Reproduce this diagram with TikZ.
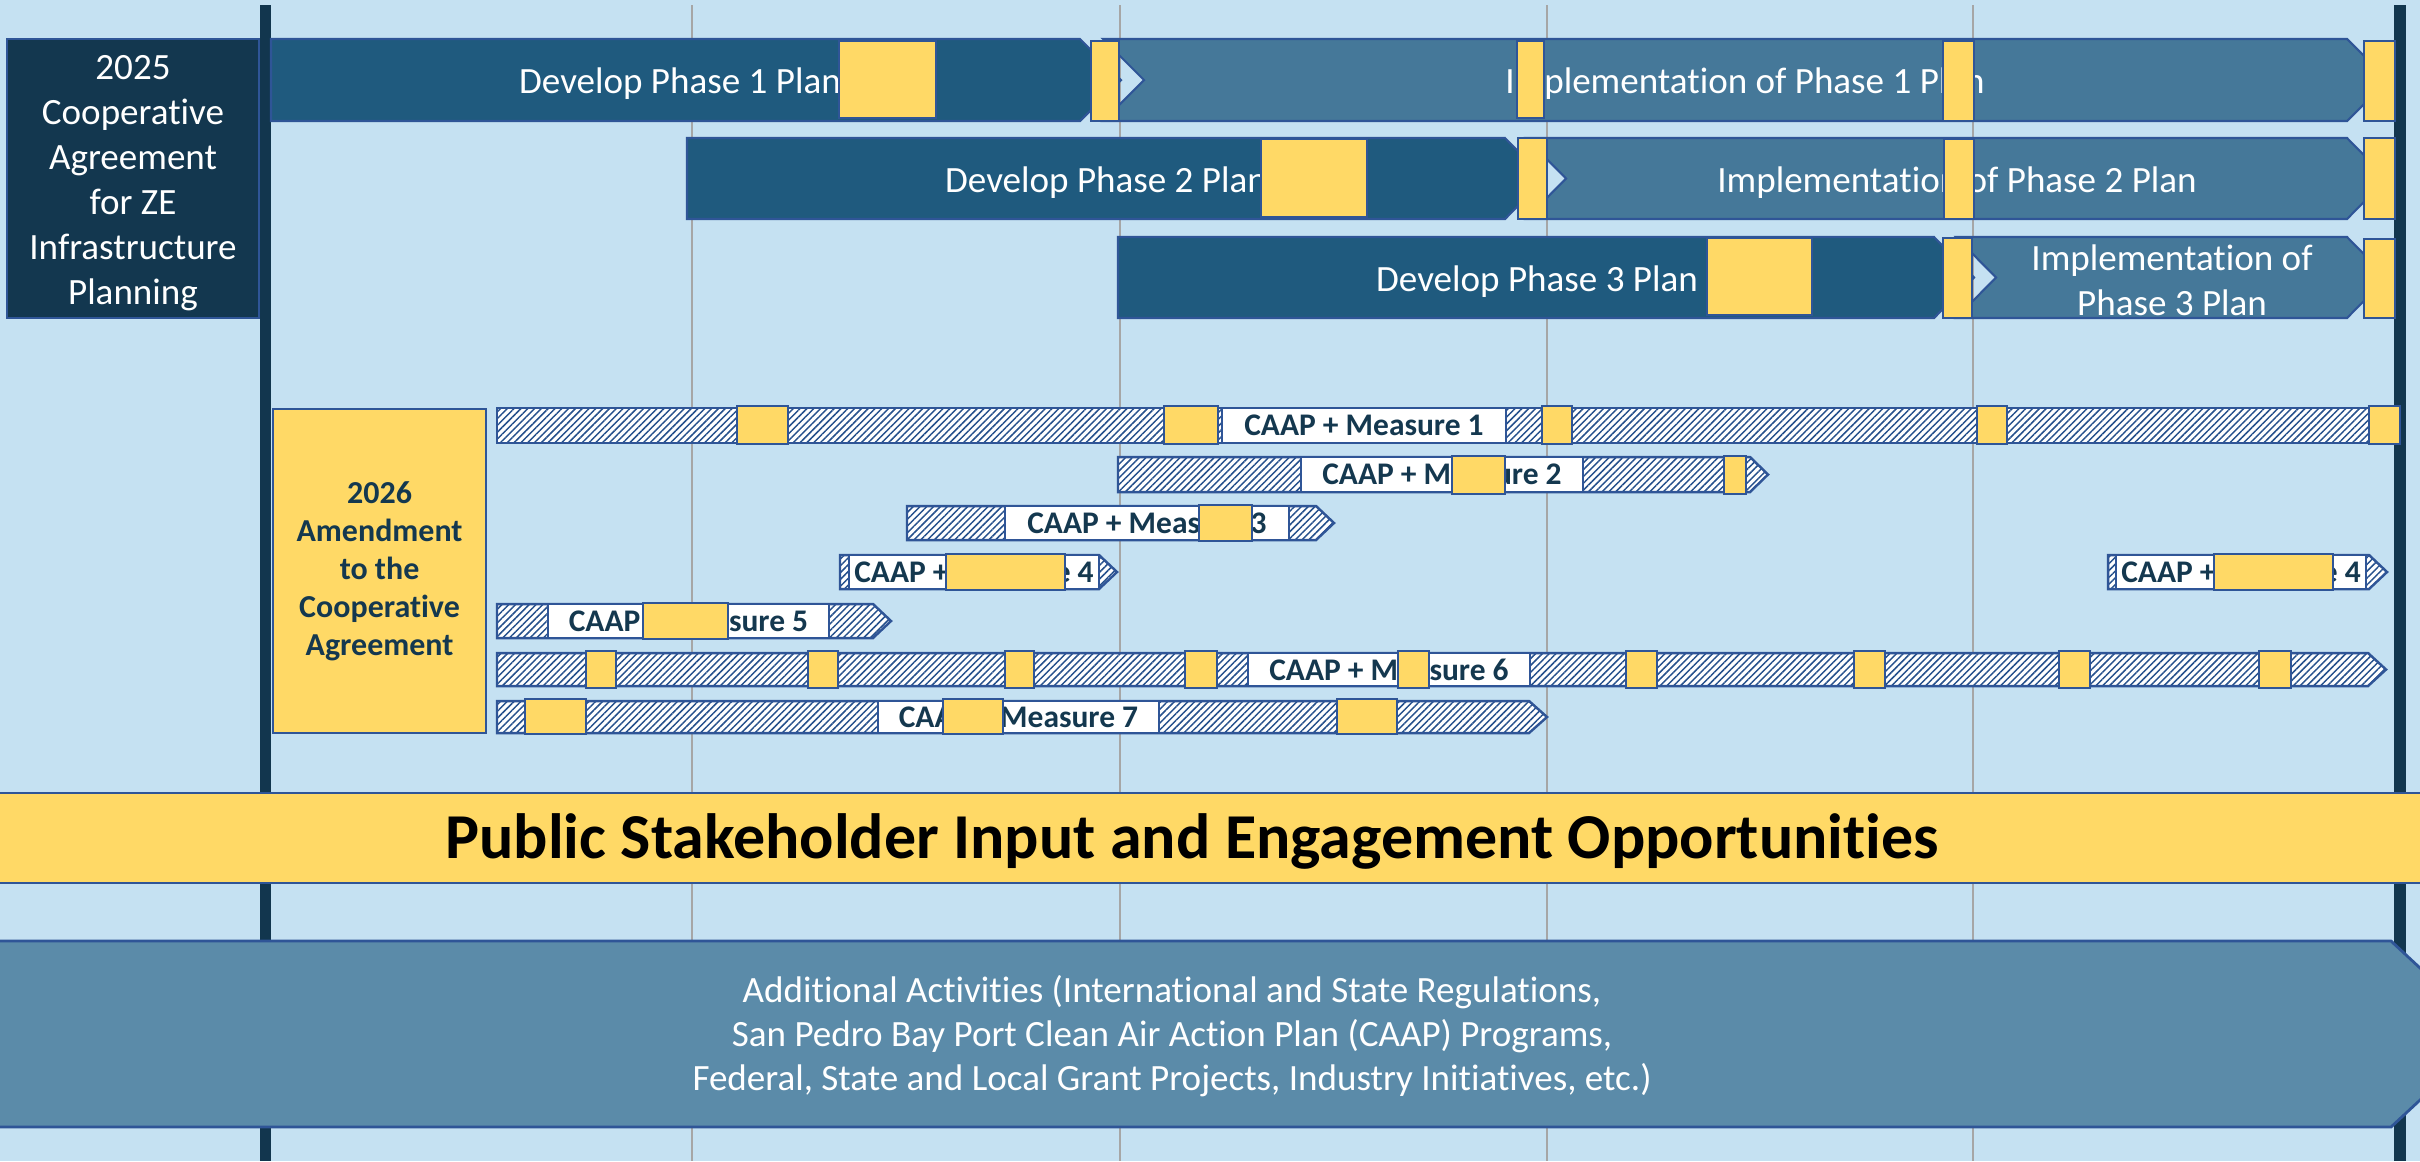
\documentclass[tikz,border=0pt]{standalone}
\usepackage{fontspec}
\setmainfont{Carlito}[Ligatures=NoCommon]
\usetikzlibrary{patterns.meta}
\definecolor{bgc}{HTML}{C5E1F2}
\definecolor{devblue}{HTML}{1F5A7E}
\definecolor{impblue}{HTML}{457899}
\definecolor{leftc}{HTML}{13374F}
\definecolor{vlinec}{HTML}{12364E}
\definecolor{ylw}{HTML}{FFD966}
\definecolor{edgeb}{HTML}{2F5597}
\definecolor{hatchc}{HTML}{25508C}
\definecolor{txtdark}{HTML}{14384F}
\definecolor{gridc}{HTML}{A6A6A6}
\definecolor{addc}{HTML}{5B8BA9}
\tikzset{
  devbar/.style={fill=devblue, draw=edgeb, line width=0.6pt},
  impbar/.style={fill=impblue, draw=edgeb, line width=0.6pt},
  yel/.style={fill=ylw, draw=edgeb, line width=0.7pt},
  hatchbar/.style={preaction={fill=white}, pattern={Lines[angle=45,distance=1.37pt,line width=0.42pt]}, pattern color=hatchc, draw=edgeb, line width=0.7pt},
  lbl/.style={fill=white, draw=edgeb, line width=0.7pt, inner sep=0pt, text=txtdark, font=\bfseries\fontsize{8.95pt}{10pt}\selectfont},
  bartext/.style={text=white, inner sep=0pt, align=center, font=\fontsize{10.55pt}{12.8pt}\selectfont},
  gridln/.style={draw=gridc, line width=0.4pt},
  leftbox/.style={fill=leftc, draw=edgeb, line width=0.6pt, inner sep=0pt, text=white, align=center, font=\fontsize{10.55pt}{12.8pt}\selectfont},
  amdbox/.style={fill=ylw, draw=edgeb, line width=0.6pt, inner sep=0pt, text=txtdark, align=center, font=\bfseries\fontsize{9.1pt}{10.8pt}\selectfont},
  pubbar/.style={fill=ylw, draw=edgeb, line width=0.7pt},
  addbar/.style={fill=addc, draw=edgeb, line width=0.8pt},
}
\newcommand\yel[4]{\draw[yel] (#1,#3) rectangle (#2,#4);}
\begin{document}
\begin{tikzpicture}[x=0.1mm,y=-0.1mm]
\useasboundingbox (0,0) rectangle (2420,1161);
\begin{scope}
\clip (0,0) rectangle (2420,1161);
\fill[bgc] (0,0) rectangle (2420,1161);
% grid lines
\foreach \gx in {692,1120,1547,1973} {\draw[gridln] (\gx,5) -- (\gx,1161);}
% thick vertical lines
\fill[vlinec] (260,5) rectangle (271,1161);
\fill[vlinec] (2394,5) rectangle (2406,1161);
% left title box
\draw[leftbox] (7,39) rectangle (259,318);
\node[leftbox, draw=none, fill=none] (agr) at (133,183)
  {2025\\Cooperative\\Agreement\\for ZE\\Infrastructure\\Planning};
% phase 1
\draw[devbar] (271,39) -- (1080,39) -- (1121,80) -- (1080,121) -- (271,121) -- cycle;
\node[bartext] (dev1) at (680,84) {Develop Phase 1 Plan};
\draw[impbar] (1103,39) -- (2347,39) -- (2388,80) -- (2347,121) -- (1103,121) -- (1144,80) -- cycle;
\node[bartext] (imp1) at (1745,84) {Implementation of Phase 1 Plan};
% phase 2
\draw[devbar] (687,138) -- (1505,138) -- (1545,178.5) -- (1505,219) -- (687,219) -- cycle;
\node[bartext] (dev2) at (1106,182.5) {Develop Phase 2 Plan};
\draw[impbar] (1526,138) -- (2347,138) -- (2387,178.5) -- (2347,219) -- (1526,219) -- (1566,178.5) -- cycle;
\node[bartext] (imp2) at (1957,182.5) {Implementation of Phase 2 Plan};
% phase 3
\draw[devbar] (1118,237) -- (1934,237) -- (1974,277.5) -- (1934,318) -- (1118,318) -- cycle;
\node[bartext] (dev3) at (1537,281.5) {Develop Phase 3 Plan};
\draw[impbar] (1956,237) -- (2347,237) -- (2387,277.5) -- (2347,318) -- (1956,318) -- (1996,277.5) -- cycle;
\node[bartext] (imp3) at (2172,280) {Implementation of\\Phase 3 Plan};
% yellow milestones, top rows
\yel{839}{936}{41}{118}\yel{1091}{1119}{41}{121}\yel{1517}{1544}{41}{118}\yel{1943}{1974}{41}{121}\yel{2364}{2395}{41}{121}
\yel{1261}{1367}{139}{217}\yel{1518}{1547}{138}{219}\yel{1944}{1974}{139}{219}\yel{2364}{2395}{138}{219}
\yel{1707}{1812}{238}{315}\yel{1943}{1972}{238}{318}\yel{2364}{2395}{239}{318}
% amendment box
\node[amdbox, anchor=north west, minimum width=21.3mm, minimum height=32.4mm] (amd) at (272,408)
  {2026\\Amendment\\to the\\Cooperative\\Agreement};
% hatched CAAP bars
\draw[hatchbar] (497,408) rectangle (2369,443);
\draw[hatchbar] (1118,457) -- (1750,457) -- (1768,474.5) -- (1750,492) -- (1118,492) -- cycle;
\draw[hatchbar] (907,506) -- (1316,506) -- (1334,523) -- (1316,540) -- (907,540) -- cycle;
\draw[hatchbar] (840,555) -- (1099,555) -- (1117,572) -- (1099,589) -- (840,589) -- cycle;
\draw[hatchbar] (2108,555) -- (2369,555) -- (2387,572) -- (2369,589) -- (2108,589) -- cycle;
\draw[hatchbar] (497,604) -- (873,604) -- (891,621) -- (873,638) -- (497,638) -- cycle;
\draw[hatchbar] (497,653) -- (2368,653) -- (2386,669.5) -- (2368,686) -- (497,686) -- cycle;
\draw[hatchbar] (497,701) -- (1529,701) -- (1547,717) -- (1529,733) -- (497,733) -- cycle;
% labels
\node[lbl, minimum width=28.4mm, minimum height=3.5mm] (m1) at (1364,425.5) {CAAP + Measure 1};
\node[lbl, minimum width=28.2mm, minimum height=3.5mm] (m2) at (1442,474.5) {CAAP + Measure 2};
\node[lbl, minimum width=28.4mm, minimum height=3.4mm] (m3) at (1147,523) {CAAP + Measure 3};
\node[lbl, minimum width=25.0mm, minimum height=3.4mm] (m4a) at (974,572) {CAAP + Measure 4};
\node[lbl, minimum width=25.0mm, minimum height=3.4mm] (m4b) at (2241,572) {CAAP + Measure 4};
\node[lbl, minimum width=28.1mm, minimum height=3.4mm] (m5) at (688.5,621) {CAAP + Measure 5};
\node[lbl, minimum width=28.2mm, minimum height=3.3mm] (m6) at (1389,669.5) {CAAP + Measure 6};
\node[lbl, minimum width=28.1mm, minimum height=3.2mm] (m7) at (1018.5,717) {CAAP + Measure 7};
% yellow milestones, CAAP rows
\yel{737}{788}{406}{444}\yel{1164}{1218}{406}{444}\yel{1542}{1572}{406}{444}\yel{1977}{2007}{406}{444}\yel{2369}{2400}{406}{444}
\yel{1452}{1505}{456}{494}\yel{1724}{1746}{456}{494}
\yel{1199}{1252}{505}{541}
\yel{946}{1065}{554}{590}\yel{2214}{2333}{554}{590}
\yel{643}{728}{603}{639}
\yel{586}{616}{651}{688}\yel{808}{838}{651}{688}\yel{1005}{1034}{651}{688}\yel{1185}{1217}{651}{688}\yel{1398}{1429}{651}{688}
\yel{1626}{1657}{651}{688}\yel{1854}{1885}{651}{688}\yel{2059}{2090}{651}{688}\yel{2259}{2291}{651}{688}
\yel{525}{586}{699}{734}\yel{943}{1003}{699}{734}\yel{1337}{1397}{699}{734}
% public stakeholder bar
\draw[pubbar] (-10,793) rectangle (2430,883);
\node[inner sep=0pt, font=\bfseries\fontsize{18.2pt}{20pt}\selectfont, text=black] (pub) at (1192,841)
  {Public Stakeholder Input and Engagement Opportunities};
% additional activities bar
\draw[addbar] (-10,941) -- (2391,941) -- (2491,1034) -- (2391,1127) -- (-10,1127) -- cycle;
\node[bartext, font=\fontsize{10.55pt}{12.5pt}\selectfont] (add) at (1172,1036)
  {Additional Activities (International and State Regulations,\\San Pedro Bay Port Clean Air Action Plan (CAAP) Programs,\\Federal, State and Local Grant Projects, Industry Initiatives, etc.)};
\end{scope}
\end{tikzpicture}
\end{document}
